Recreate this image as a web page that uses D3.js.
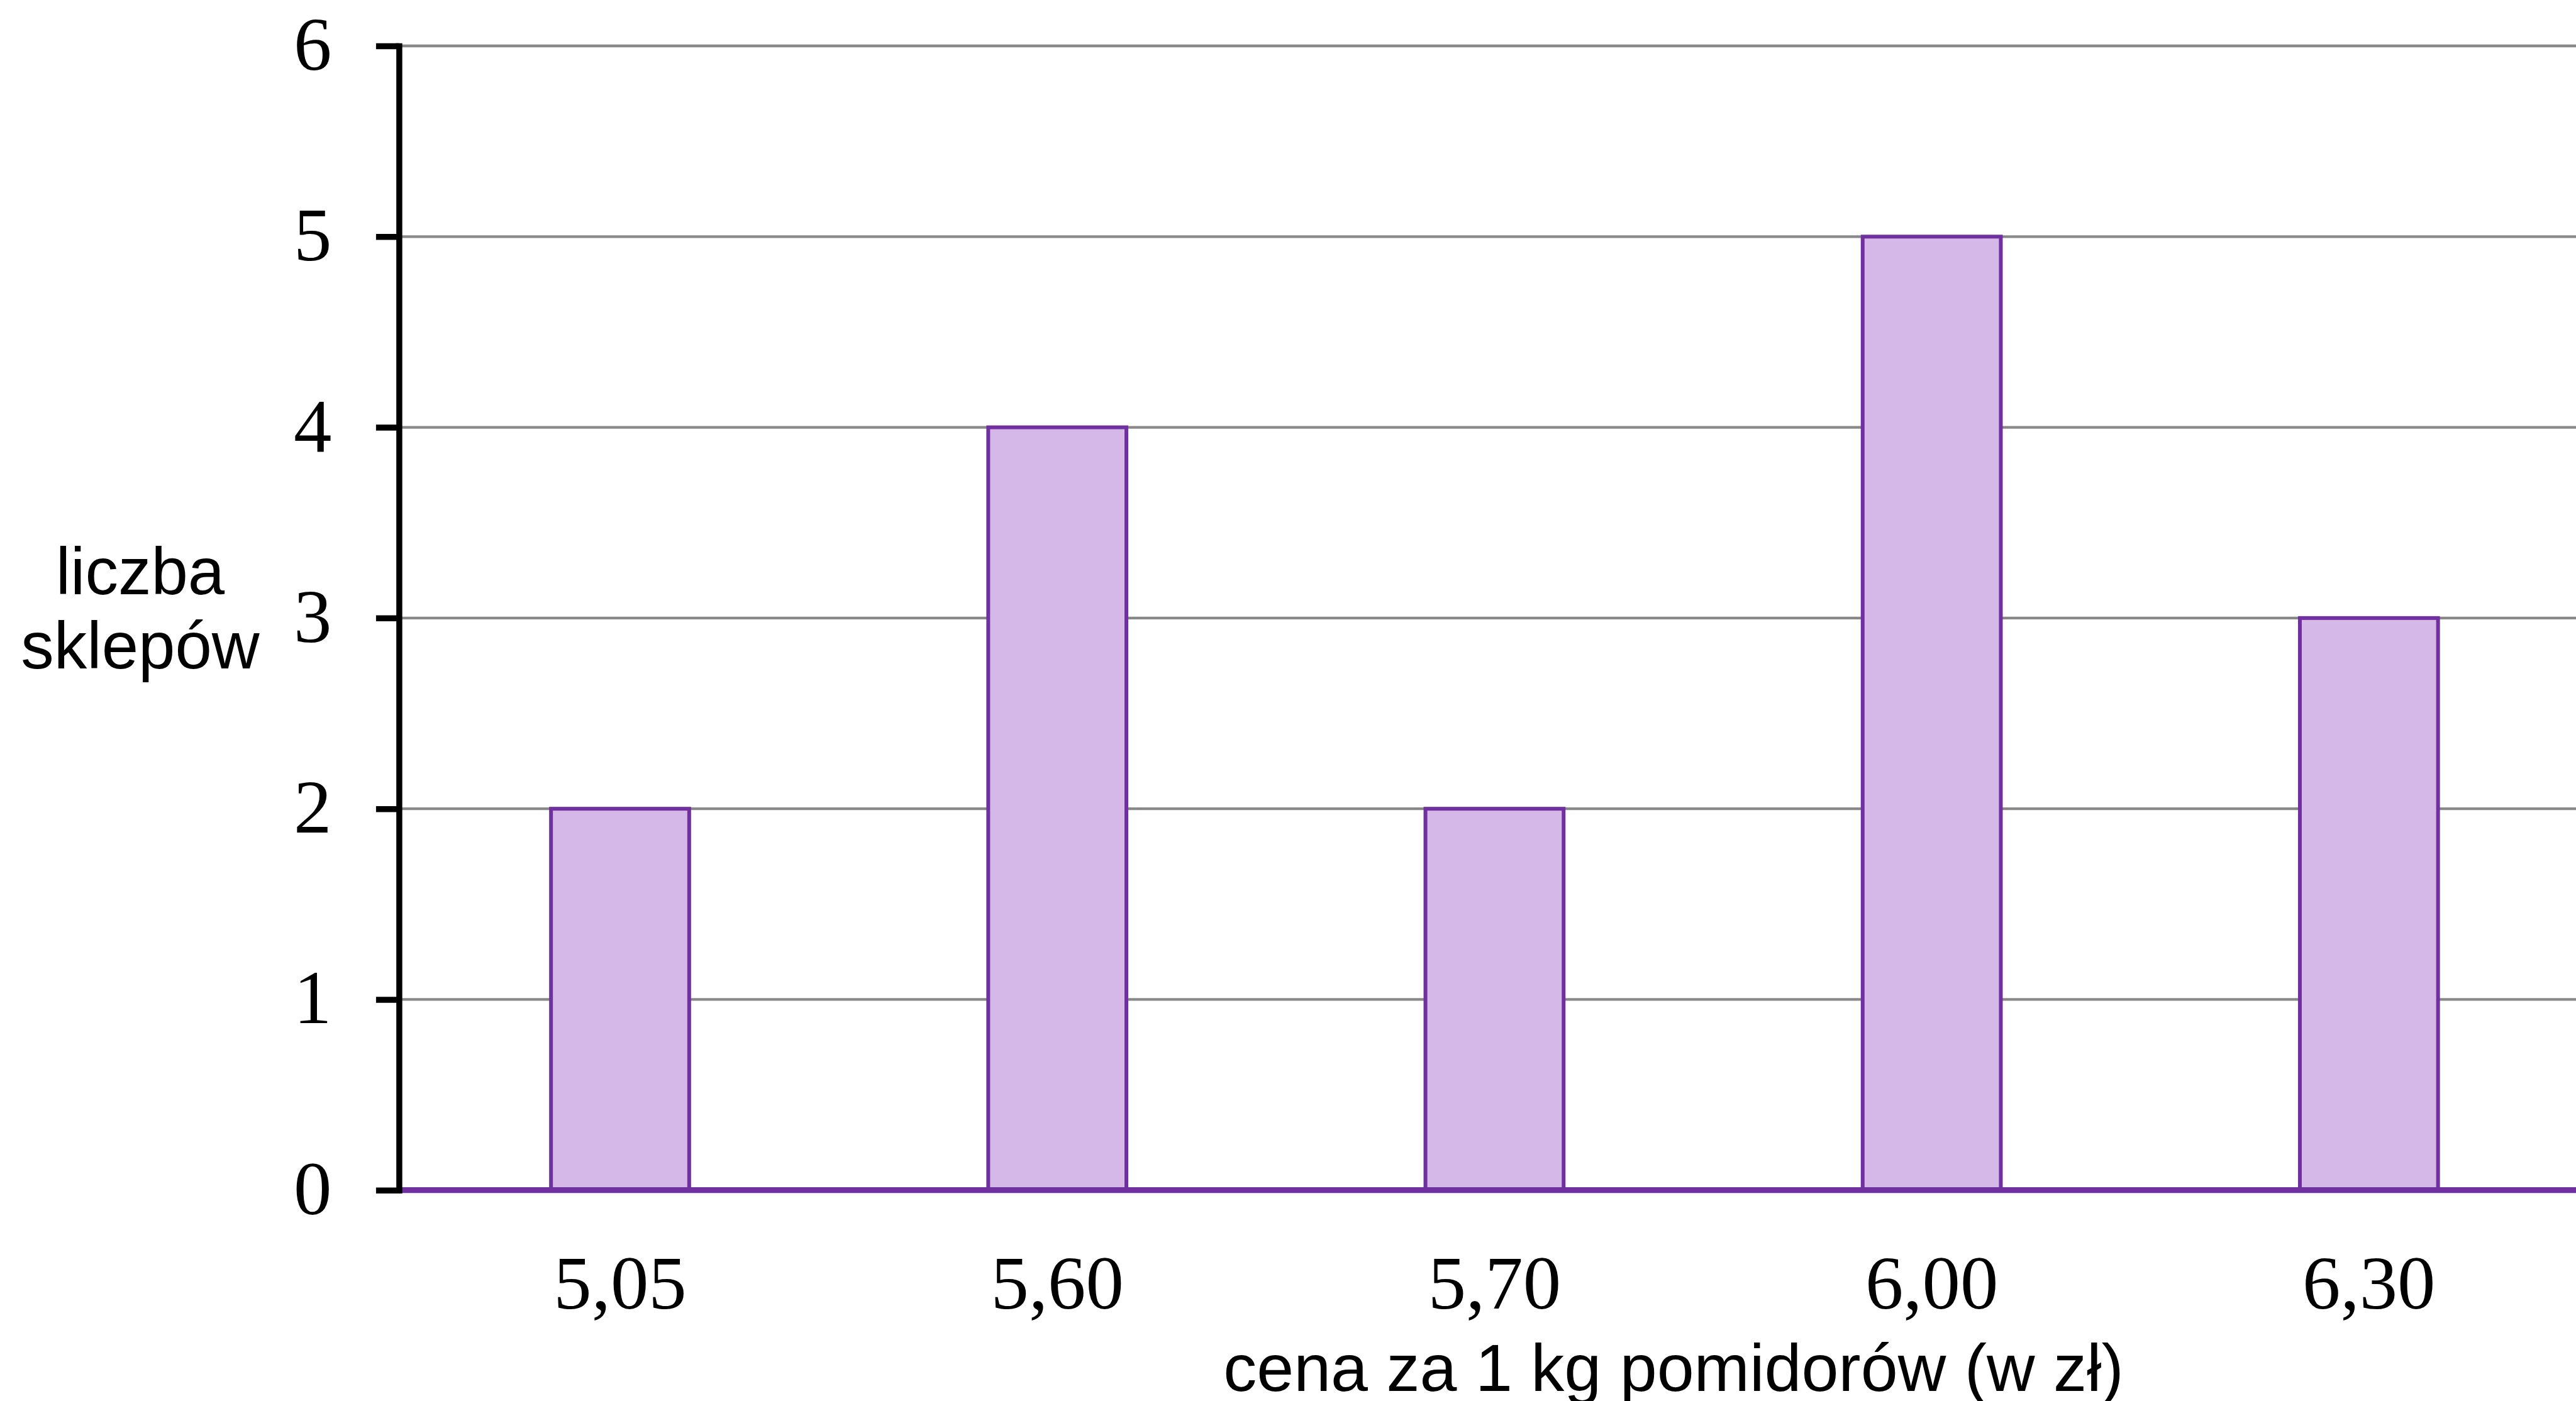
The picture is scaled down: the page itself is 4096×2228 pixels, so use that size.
<!DOCTYPE html>
<html lang="pl">
<head>
<meta charset="utf-8">
<script src="https://cdn.jsdelivr.net/npm/d3@7"></script>
<style>
  html, body { margin: 0; padding: 0; background: #ffffff; }
  svg { display: block; }
</style>
</head>
<body>
<script>
// Prices per kg of tomatoes and the number of shops offering each price
const categories = ["5,05", "5,60", "5,70", "6,00", "6,30"];
const shopCounts = [2, 4, 2, 5, 3];
const yTicks = [0, 1, 2, 3, 4, 5, 6];
const yTitleLines = ["liczba", "sklepów"];
const xTitle = "cena za 1 kg pomidorów (w zł)";

const W = 4096, H = 2228;
const purple = "#7030A0";
const barFill = "#D5B8E8";

const svg = d3.select("body").append("svg")
  .attr("width", W).attr("height", H);

const plotLeft = 634.4, plotRight = 4110.4, plotTop = 73.0, plotBottom = 1892.7;

const x = d3.scaleBand()
  .domain(categories)
  .range([plotLeft + 4, plotRight + 4])
  .paddingInner(0.684)
  .paddingOuter(0.342);

const y = d3.scaleLinear()
  .domain([0, 6])
  .range([plotBottom, plotTop]);

// horizontal gridlines
svg.append("g")
  .selectAll("line")
  .data(yTicks.filter(d => d > 0))
  .join("line")
  .attr("x1", plotLeft).attr("x2", W)
  .attr("y1", d => y(d)).attr("y2", d => y(d))
  .attr("stroke", "#888888")
  .attr("stroke-width", 4.3);

// bars
svg.append("g")
  .selectAll("rect")
  .data(categories.map((c, i) => ({ c, v: shopCounts[i] })))
  .join("rect")
  .attr("x", d => x(d.c))
  .attr("width", x.bandwidth())
  .attr("y", d => y(d.v))
  .attr("height", d => y(0) - y(d.v))
  .attr("fill", barFill)
  .attr("stroke", purple)
  .attr("stroke-width", 6);

// category axis: purple baseline and price labels
const xAxis = svg.append("g")
  .attr("transform", `translate(0,${plotBottom})`)
  .call(d3.axisBottom(x).tickSize(0).tickSizeOuter(0));
xAxis.select(".domain").remove();
xAxis.selectAll(".tick text")
  .attr("y", 188.3)
  .attr("dy", null)
  .attr("font-family", "'Liberation Serif', serif")
  .attr("font-size", 120.8)
  .attr("fill", "#000");

svg.append("line")
  .attr("x1", plotLeft).attr("x2", W)
  .attr("y1", y(0)).attr("y2", y(0))
  .attr("stroke", purple)
  .attr("stroke-width", 9.3);

// value axis
const yAxis = svg.append("g")
  .attr("transform", `translate(${plotLeft},0)`)
  .call(d3.axisLeft(y).tickValues(yTicks).tickSize(36.5).tickSizeOuter(0).tickPadding(70.4)
    .tickFormat(d3.format("d")));
yAxis.select(".domain")
  .attr("stroke", "#000")
  .attr("stroke-width", 9.5)
  .attr("stroke-linecap", "square");
yAxis.selectAll(".tick line")
  .attr("stroke", "#000")
  .attr("stroke-width", 9.5);
yAxis.selectAll(".tick text")
  .attr("dy", "0.31em")
  .attr("font-family", "'Liberation Serif', serif")
  .attr("font-size", 120.8)
  .attr("fill", "#000");

// axis titles
svg.append("text")
  .attr("text-anchor", "middle")
  .attr("font-family", "'Liberation Sans', Arial, sans-serif")
  .attr("font-size", 105)
  .attr("fill", "#000")
  .selectAll("tspan")
  .data(yTitleLines)
  .join("tspan")
  .attr("x", 223)
  .attr("y", (d, i) => 944.6 + i * 118.2)
  .text(d => d);

svg.append("text")
  .attr("x", 2661)
  .attr("y", 2211.6)
  .attr("text-anchor", "middle")
  .attr("font-family", "'Liberation Sans', Arial, sans-serif")
  .attr("font-size", 106)
  .attr("fill", "#000")
  .text(xTitle);
</script>
</body>
</html>
